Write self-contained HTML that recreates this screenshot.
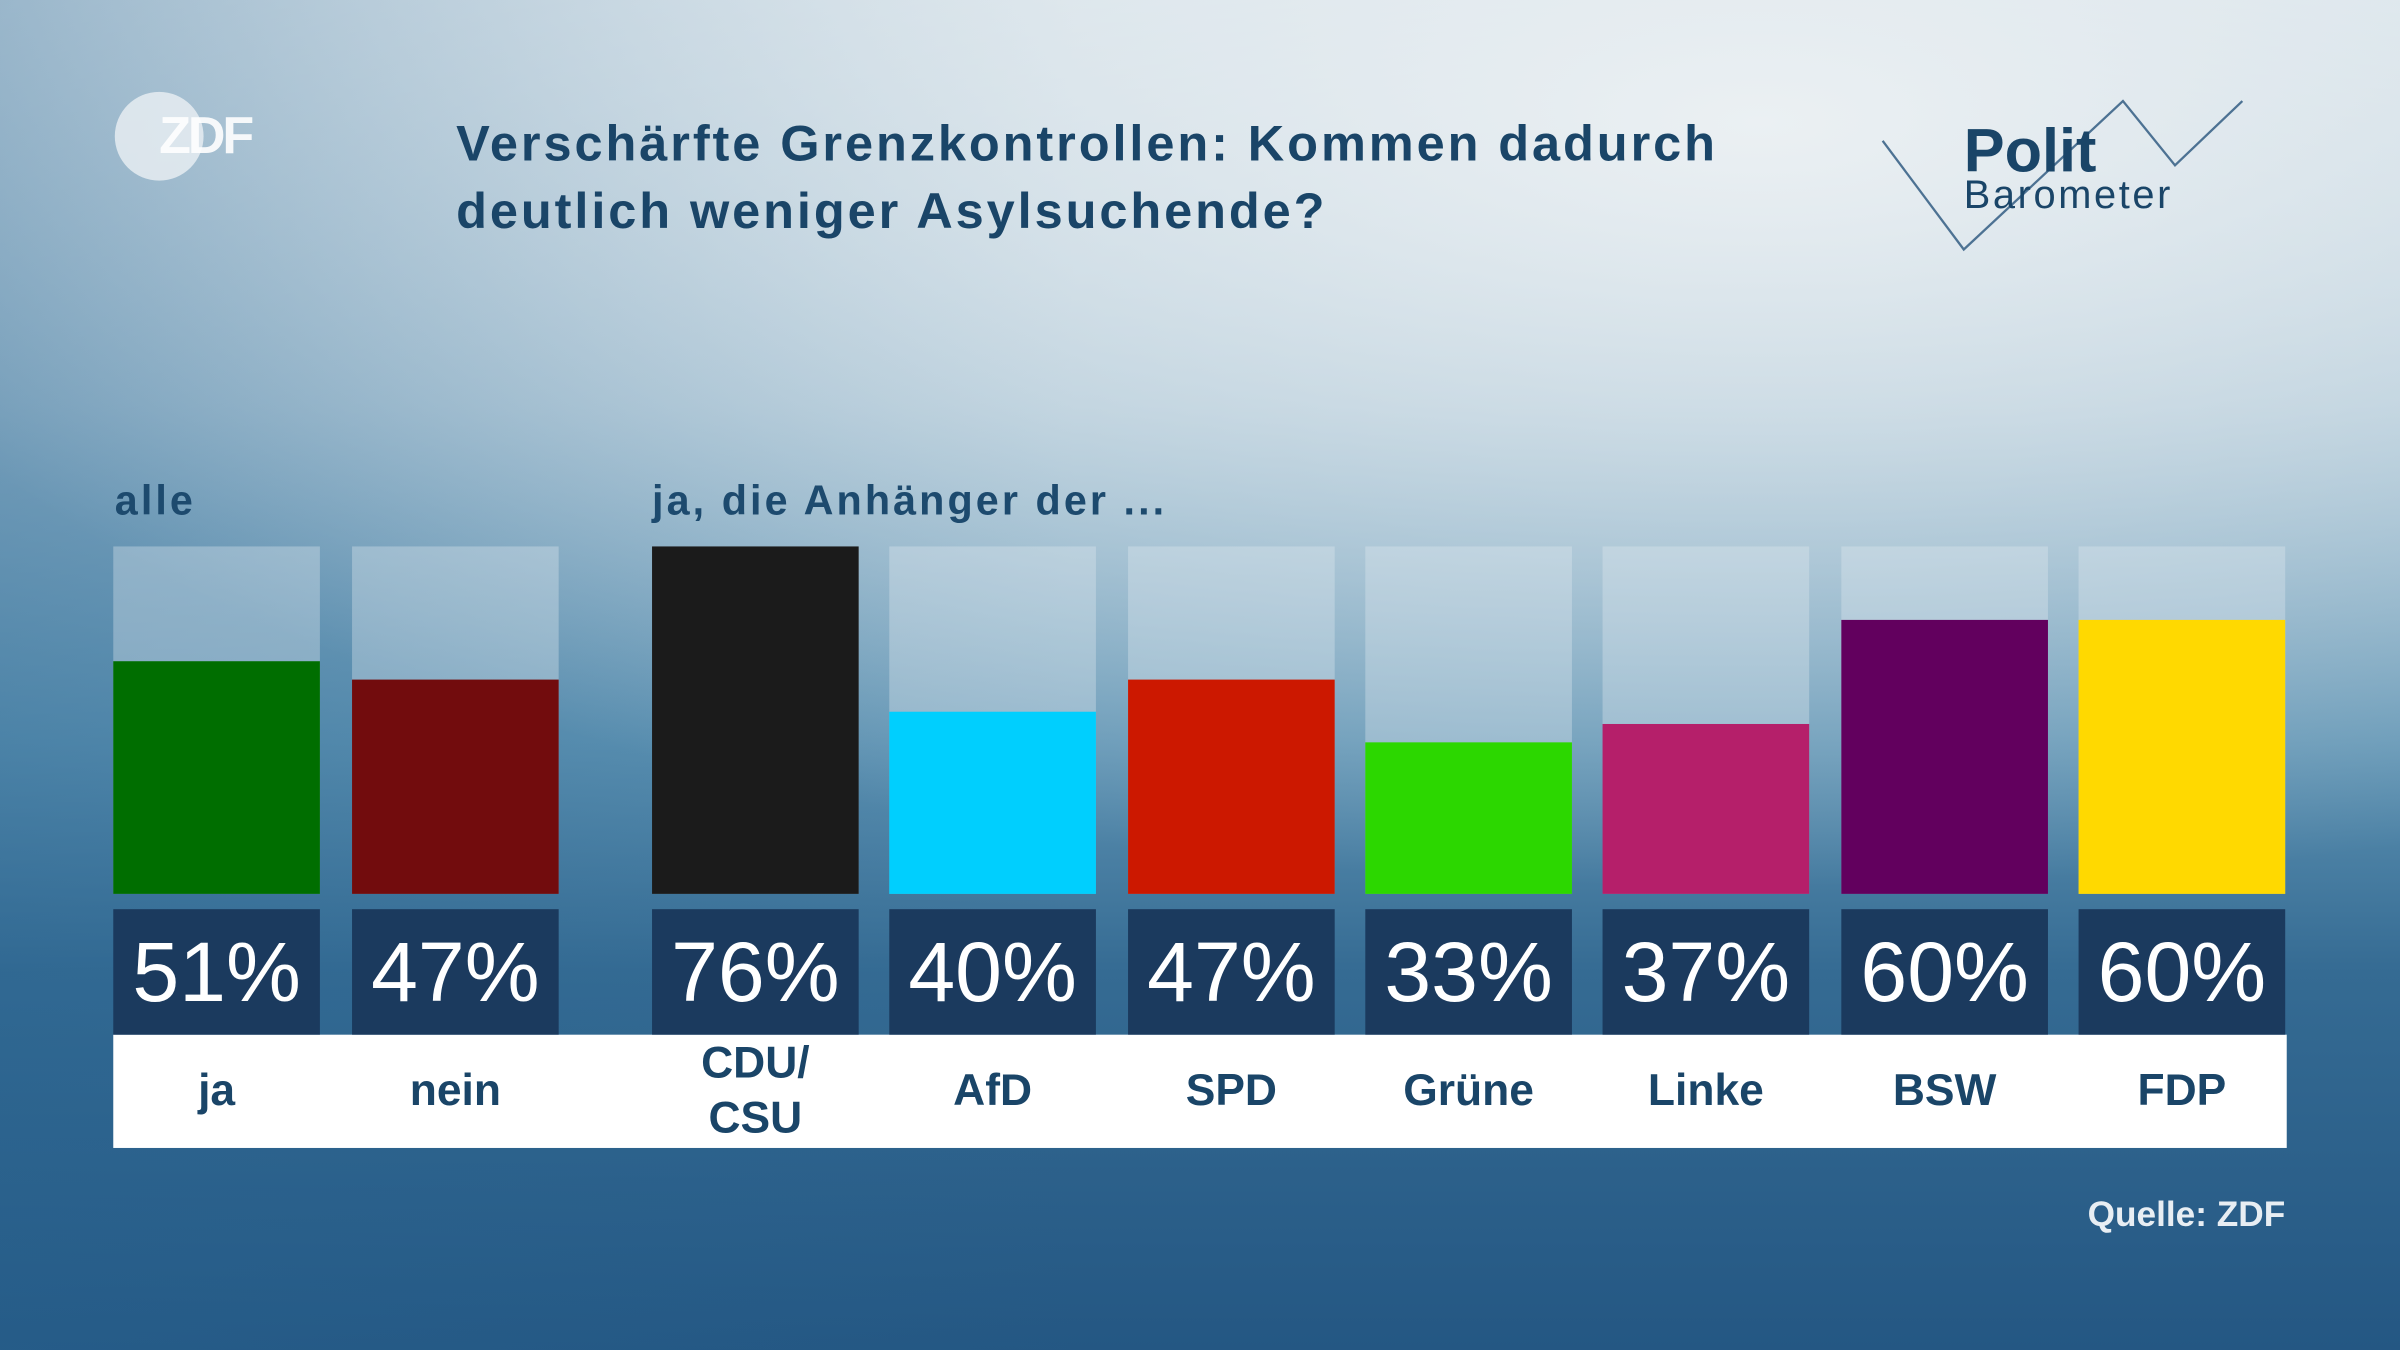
<!DOCTYPE html>
<html><head><meta charset="utf-8"><style>
html,body{margin:0;padding:0;width:2400px;height:1350px;overflow:hidden}
#stage{position:absolute;left:0;top:0;width:1568px;height:882px;transform:scale(1.530612);transform-origin:0 0;
background:radial-gradient(ellipse 1300px 500px at 1150px 80px,rgba(235,240,243,1) 0%,rgba(235,240,243,0.6) 40%,rgba(235,240,243,0) 100%),linear-gradient(90deg,rgba(40,100,145,0.35) 0%,rgba(40,100,145,0) 45%),linear-gradient(180deg,#c9d9e3 0%,#9dbccf 30%,#5e93b3 55%,#356b93 72%,#245783 100%);
font-family:"Liberation Sans",sans-serif;overflow:hidden}
.abs{position:absolute}
.title{left:298px;top:72px;font-size:33px;font-weight:bold;color:#1a4568;line-height:44px;letter-spacing:1.9px;white-space:nowrap}
.sub{font-size:27px;font-weight:bold;color:#1d4a6e;top:312px;letter-spacing:2px}
.bg{background:rgba(225,235,242,0.35)}
.pct{background:#1b3a5e;color:#fff;font-size:55px;text-align:center;line-height:82px}
.lbl{color:#1a4568;font-size:29px;font-weight:bold;text-align:center;line-height:36px;display:flex;align-items:center;justify-content:center}
</style></head><body>
<div id="stage">
<div class="abs" style="left:75px;top:60px;width:58px;height:58px;border-radius:50%;background:rgba(235,240,244,0.8)"></div>
<div class="abs" style="left:104px;top:70px;font-size:34px;font-weight:bold;color:#fff;letter-spacing:-2px;opacity:0.9">ZDF</div>
<div class="abs title">Verschärfte Grenzkontrollen: Kommen dadurch<br>deutlich weniger Asylsuchende?</div>
<svg class="abs" style="left:1225px;top:60px" width="250" height="110">
<polyline points="5,32 58,103 162,6 196,48 240,6" fill="none" stroke="#4d7293" stroke-width="1.5"/>
<text x="58" y="52" font-family="Liberation Sans" font-weight="bold" font-size="40" fill="#1a4568">Polit</text>
<text x="58" y="76" font-family="Liberation Sans" font-size="26" fill="#1a4568" textLength="135">Barometer</text>
</svg>
<div class="abs sub" style="left:75px">alle</div>
<div class="abs sub" style="left:426px">ja, die Anhänger der ...</div>
<div class="abs" style="left:74px;top:676px;width:1420px;height:74px;background:#fff"></div>
<div class="abs" style="left:1300px;width:193px;text-align:right;top:780px;font-size:23px;font-weight:bold;color:#e8eef3">Quelle: ZDF</div>
<div id="bars"></div>
</div>
<script>
const categories=["ja","nein","CDU/<br>CSU","AfD","SPD","Grüne","Linke","BSW","FDP"];
const values=[51,47,76,40,47,33,37,60,60];
const colors=["#006e00","#720c0d","#1b1b1b","#00cffe","#cc1800","#2cd700","#b51f6a","#62005e","#ffd900"];
const maxV=76, top0=357, bot=584, bw=135;
const xs=[74,230,426,581,737,892,1047,1203,1358];
function yScale(v){return bot-(v/maxV)*(bot-top0);}
const root=document.getElementById('bars');
categories.forEach((c,i)=>{
  const x=xs[i];
  const bg=document.createElement('div');
  
  
  bg.className='abs bg';bg.style.cssText=`left:${x}px;top:${top0}px;width:${bw}px;height:${bot-top0}px`;
  root.appendChild(bg);
  const b=document.createElement('div');
  
  
  const y=yScale(values[i]);
  b.className='abs';b.style.cssText=`left:${x}px;top:${y}px;width:${bw}px;height:${bot-y}px;background:${colors[i]}`;
  root.appendChild(b);
  const p=document.createElement('div');
  
  
  p.className='abs pct';p.style.cssText=`left:${x}px;top:594px;width:${bw}px;height:82px`;
  p.textContent=values[i]+'%';
  root.appendChild(p);
  const l=document.createElement('div');
  
  
  l.className='abs lbl';l.style.cssText=`left:${x-10}px;top:676px;width:${bw+20}px;height:74px`;
  l.innerHTML=c;
  root.appendChild(l);
});
</script>
</body></html>
